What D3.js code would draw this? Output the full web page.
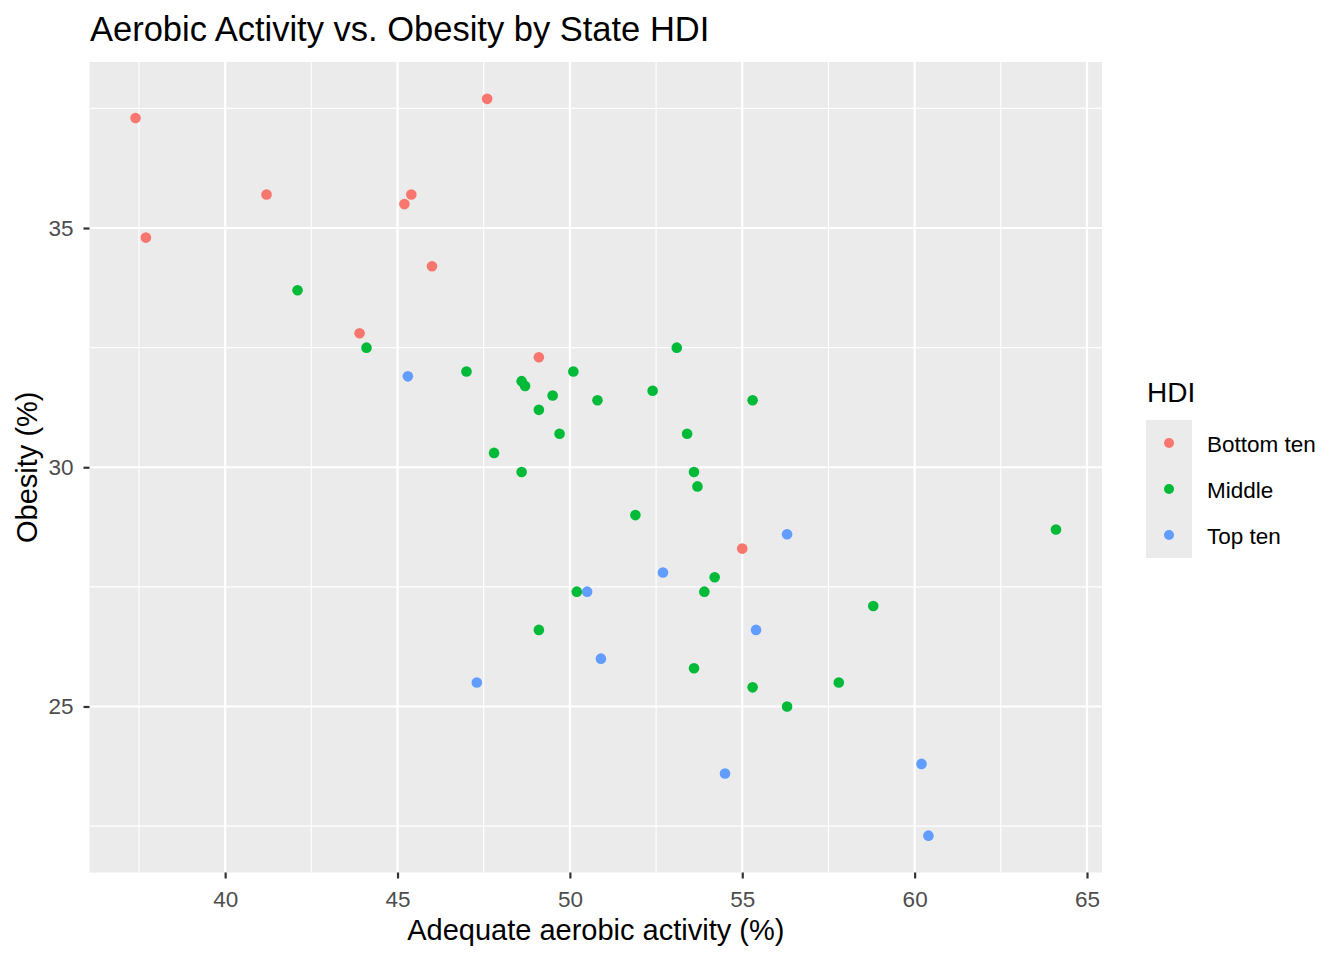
<!DOCTYPE html>
<html lang="en">
<head>
<meta charset="UTF-8">
<script src="https://d3js.org/d3.v7.min.js"></script>
<title>Aerobic Activity vs. Obesity by State HDI</title>
<style>
  body { margin: 0; background: #fff; }
  text { font-family: "Liberation Sans", Arial, sans-serif; }
</style>
</head>
<body>
<div id="chart"></div>
<script>
// HDI groups
var groups = ["Bottom ten", "Middle", "Top ten"];
var groupColors = ["#F8766D", "#00BA38", "#619CFF"];

// adequate aerobic activity (%) and obesity (%) per group
var bottomAerobic = [37.4, 47.6, 41.2, 45.4, 45.2, 37.7, 46.0, 43.9, 49.1, 55.0];
var bottomObesity = [37.3, 37.7, 35.7, 35.7, 35.5, 34.8, 34.2, 32.8, 32.3, 28.3];

var middleAerobic = [42.1, 44.1, 47.0, 48.6, 48.7, 49.5, 49.1, 50.1, 50.8, 49.7,
                     47.8, 48.6, 53.1, 52.4, 55.3, 53.4, 53.6, 53.7, 51.9, 64.1,
                     54.2, 50.2, 53.9, 58.8, 49.1, 53.6, 55.3, 57.8, 56.3];
var middleObesity = [33.7, 32.5, 32.0, 31.8, 31.7, 31.5, 31.2, 32.0, 31.4, 30.7,
                     30.3, 29.9, 32.5, 31.6, 31.4, 30.7, 29.9, 29.6, 29.0, 28.7,
                     27.7, 27.4, 27.4, 27.1, 26.6, 25.8, 25.4, 25.5, 25.0];

var topAerobic = [45.3, 56.3, 52.7, 50.5, 55.4, 50.9, 47.3, 54.5, 60.2, 60.4];
var topObesity = [31.9, 28.6, 27.8, 27.4, 26.6, 26.0, 25.5, 23.6, 23.8, 22.3];

var xTicks = [40, 45, 50, 55, 60, 65];
var yTicks = [25, 30, 35];

var W = 1344, H = 960;
var panel = {left: 89.5, top: 62, right: 1102, bottom: 872.5};

var series = [
  {group: groups[0], x: bottomAerobic, y: bottomObesity},
  {group: groups[1], x: middleAerobic, y: middleObesity},
  {group: groups[2], x: topAerobic, y: topObesity}
];
var points = [];
series.forEach(function(s) {
  s.x.forEach(function(v, i) { points.push({group: s.group, x: v, y: s.y[i]}); });
});

var color = d3.scaleOrdinal().domain(groups).range(groupColors);

// ggplot style 5% expansion
var xExt = d3.extent(points, function(d) { return d.x; });
var yExt = d3.extent(points, function(d) { return d.y; });
var xPad = (xExt[1] - xExt[0]) * 0.05, yPad = (yExt[1] - yExt[0]) * 0.05;

var x = d3.scaleLinear()
  .domain([xExt[0] - xPad, xExt[1] + xPad])
  .range([panel.left, panel.right]);
var y = d3.scaleLinear()
  .domain([yExt[0] - yPad, yExt[1] + yPad])
  .range([panel.bottom, panel.top]);

var svg = d3.select("#chart").append("svg")
  .attr("width", W).attr("height", H);

// panel background
svg.append("rect")
  .attr("x", panel.left).attr("y", panel.top)
  .attr("width", panel.right - panel.left)
  .attr("height", panel.bottom - panel.top)
  .attr("fill", "#EBEBEB");

// minor grid (midpoints between breaks)
var xMinor = [37.5].concat(xTicks.map(function(t) { return t + 2.5; }))
  .filter(function(v) { return v > x.domain()[0] && v < x.domain()[1]; });
var yMinor = [22.5, 27.5, 32.5, 37.5]
  .filter(function(v) { return v > y.domain()[0] && v < y.domain()[1]; });

var grid = svg.append("g");
grid.selectAll(".xminor").data(xMinor).enter().append("line")
  .attr("x1", function(d) { return x(d); }).attr("x2", function(d) { return x(d); })
  .attr("y1", panel.top).attr("y2", panel.bottom)
  .attr("stroke", "#fff").attr("stroke-width", 1.1);
grid.selectAll(".yminor").data(yMinor).enter().append("line")
  .attr("y1", function(d) { return y(d); }).attr("y2", function(d) { return y(d); })
  .attr("x1", panel.left).attr("x2", panel.right)
  .attr("stroke", "#fff").attr("stroke-width", 1.1);
grid.selectAll(".xmajor").data(xTicks).enter().append("line")
  .attr("x1", function(d) { return x(d); }).attr("x2", function(d) { return x(d); })
  .attr("y1", panel.top).attr("y2", panel.bottom)
  .attr("stroke", "#fff").attr("stroke-width", 2.2);
grid.selectAll(".ymajor").data(yTicks).enter().append("line")
  .attr("y1", function(d) { return y(d); }).attr("y2", function(d) { return y(d); })
  .attr("x1", panel.left).attr("x2", panel.right)
  .attr("stroke", "#fff").attr("stroke-width", 2.2);

// points
svg.append("g").selectAll("circle")
  .data(points).enter().append("circle")
  .attr("cx", function(d) { return x(d.x); })
  .attr("cy", function(d) { return y(d.y); })
  .attr("r", 5.3)
  .attr("fill", function(d) { return color(d.group); });

// axes
var xAxis = svg.append("g")
  .attr("transform", "translate(0," + panel.bottom + ")")
  .call(d3.axisBottom(x).tickValues(xTicks).tickSize(6).tickPadding(13));
var yAxis = svg.append("g")
  .attr("transform", "translate(" + panel.left + ",0)")
  .call(d3.axisLeft(y).tickValues(yTicks).tickSize(6).tickPadding(10));
[xAxis, yAxis].forEach(function(a) {
  a.select(".domain").remove();
  a.selectAll(".tick line").attr("stroke", "#333").attr("stroke-width", 2.2);
  a.selectAll(".tick text").attr("fill", "#4D4D4D")
    .style("font-size", "22.5px").style("font-family", "Liberation Sans, Arial, sans-serif");
});

// titles
svg.append("text")
  .attr("x", 90).attr("y", 41)
  .style("font-size", "34.5px")
  .text("Aerobic Activity vs. Obesity by State HDI");

svg.append("text")
  .attr("x", (panel.left + panel.right) / 2).attr("y", 940)
  .attr("text-anchor", "middle")
  .style("font-size", "29px")
  .text("Adequate aerobic activity (%)");

svg.append("text")
  .attr("transform", "translate(37," + ((panel.top + panel.bottom) / 2) + ") rotate(-90)")
  .attr("text-anchor", "middle")
  .style("font-size", "29px")
  .text("Obesity (%)");

// legend
var legend = svg.append("g");
legend.append("text")
  .attr("x", 1147).attr("y", 402)
  .style("font-size", "28px")
  .text("HDI");
legend.append("rect")
  .attr("x", 1146).attr("y", 420)
  .attr("width", 46).attr("height", 138)
  .attr("fill", "#EBEBEB");
var items = legend.selectAll(".item").data(groups).enter().append("g")
  .attr("transform", function(d, i) { return "translate(0," + (443 + i * 46) + ")"; });
items.append("circle")
  .attr("cx", 1169).attr("cy", 0).attr("r", 5)
  .attr("fill", function(d) { return color(d); });
items.append("text")
  .attr("x", 1207).attr("y", 8.5)
  .style("font-size", "22.5px")
  .text(function(d) { return d; });
</script>
</body>
</html>
